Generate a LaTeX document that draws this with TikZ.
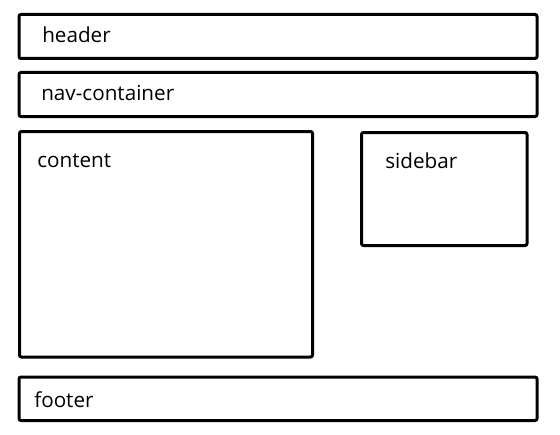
\documentclass[tikz,border=0pt]{standalone}
\usepackage{fontspec}
\setmainfont{Open Sans}
\begin{document}
\begin{tikzpicture}[x=0.75pt,y=-0.75pt,
  box/.style={draw=black,line width=2.25pt,rounded corners=1.5pt},
  lbl/.style={anchor=base west,inner sep=0pt,font=\fontsize{15.5pt}{18pt}\selectfont}]
\useasboundingbox (0,0) rectangle (560,435);
\draw[box] (19,14.5) rectangle (537,58.5);
\draw[box] (19,72.5) rectangle (537,116.5);
\draw[box] (19.5,131.5) rectangle (312.5,357);
\draw[box] (361.5,132.5) rectangle (527,245.5);
\draw[box] (19,377) rectangle (537,420.5);
\node[lbl] (header) at (42,42.5) {header};
\node[lbl] (nav) at (41,100.5) {nav-container};
\node[lbl] (content) at (37,167) {content};
\node[lbl] (sidebar) at (385,168) {sidebar};
\node[lbl] (footer) at (34,407.5) {footer};
\end{tikzpicture}
\end{document}
